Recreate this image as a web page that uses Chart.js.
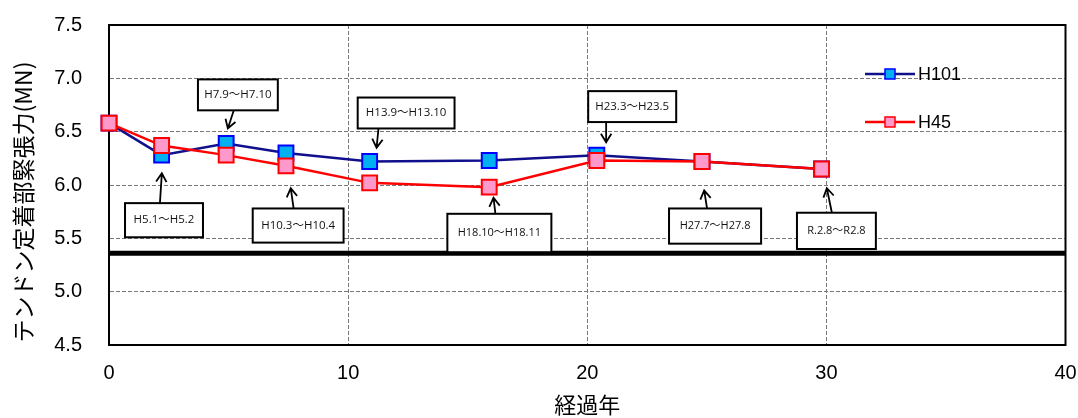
<!DOCTYPE html>
<html lang="ja">
<head>
<meta charset="UTF-8">
<title>テンドン定着部緊張力</title>
<script src="https://cdn.jsdelivr.net/npm/chart.js"></script>
<style>
  html, body { margin: 0; padding: 0; background: #fff; }
  #wrap { width: 1078px; height: 418px; position: relative; }
</style>
</head>
<body>
<div id="wrap"><canvas id="chart"></canvas></div>
<script>
// elapsed years at each measurement
const years = [0, 2.2, 4.9, 7.4, 10.9, 15.9, 20.4, 24.8, 29.8];
// tendon anchorage tension (MN)
const h101 = [6.58, 6.28, 6.39, 6.30, 6.22, 6.23, 6.28, 6.22, 6.15];
const h45  = [6.58, 6.37, 6.28, 6.18, 6.02, 5.98, 6.23, 6.22, 6.15];
// design limit line
const limitValue = 5.36;
const limitRange = [0, 40];
// measurement periods (points 2..9)
const periods = ['H5.1～H5.2', 'H7.9～H7.10', 'H10.3～H10.4', 'H13.9～H13.10',
                 'H18.10～H18.11', 'H23.3～H23.5', 'H27.7～H27.8', 'R.2.8～R2.8'];
const yTitle = 'テンドン定着部緊張力(MN)';
const xTitle = '経過年';

// callout layout in data units: box [x1, y1, x2, y2], arrow [tailX, tailY, tipX, tipY]
const calloutBoxes = [
    [0.67, 5.83, 3.93, 5.51], [3.72, 6.99, 7.06, 6.70], [6.01, 5.78, 9.81, 5.46],
    [10.40, 6.82, 14.45, 6.53], [14.15, 5.73, 18.50, 5.37], [20.04, 6.88, 23.72, 6.59],
    [23.42, 5.78, 27.27, 5.45], [28.77, 5.74, 32.07, 5.40]
];
const calloutArrows = [
    [2.13, 5.83, 2.21, 6.11], [5.22, 6.70, 4.97, 6.53], [7.72, 5.78, 7.60, 5.97],
    [11.27, 6.53, 11.19, 6.35], [16.16, 5.73, 16.08, 5.88], [20.79, 6.59, 20.79, 6.40],
    [25.01, 5.78, 24.89, 5.95], [30.23, 5.74, 30.02, 5.97]
];
const calloutFont = [11.5, 11.5, 11.5, 11.5, 11, 11.5, 11, 11];

const toPts = (xs, ys) => xs.map((x, i) => ({ x: x, y: ys[i] }));

const framePlugin = {
    id: 'frame',
    beforeDatasetsDraw(chart) {
        const { ctx, chartArea: a } = chart;
        ctx.save();
        ctx.strokeStyle = '#000';
        ctx.lineWidth = 2;
        ctx.strokeRect(a.left, a.top, a.right - a.left, a.bottom - a.top);
        ctx.restore();
    },
    afterDraw(chart) {
        // vertical axis title, sits a little below the plot centre like the original
        const { ctx, chartArea: a } = chart;
        ctx.save();
        ctx.translate(23, (a.top + a.bottom) / 2 + 17);
        ctx.rotate(-Math.PI / 2);
        ctx.fillStyle = '#000';
        ctx.font = '23px "Noto Sans CJK JP", sans-serif';
        ctx.textAlign = 'center';
        ctx.textBaseline = 'middle';
        ctx.fillText(yTitle, 0, 0);
        ctx.restore();
    }
};

function arrow(ctx, x1, y1, x2, y2) {
    const ang = Math.atan2(y2 - y1, x2 - x1);
    const h = 10;
    ctx.beginPath();
    ctx.moveTo(x1, y1);
    ctx.lineTo(x2, y2);
    ctx.moveTo(x2 - h * Math.cos(ang - 0.55), y2 - h * Math.sin(ang - 0.55));
    ctx.lineTo(x2, y2);
    ctx.lineTo(x2 - h * Math.cos(ang + 0.55), y2 - h * Math.sin(ang + 0.55));
    ctx.stroke();
}

const calloutPlugin = {
    id: 'callouts',
    afterDatasetsDraw(chart) {
        const { ctx, scales: { x, y } } = chart;
        ctx.save();
        periods.forEach((txt, i) => {
            const b = calloutBoxes[i];
            const x1 = x.getPixelForValue(b[0]), y1 = y.getPixelForValue(b[1]);
            const x2 = x.getPixelForValue(b[2]), y2 = y.getPixelForValue(b[3]);
            ctx.fillStyle = '#fff';
            ctx.fillRect(x1, y1, x2 - x1, y2 - y1);
            ctx.strokeStyle = '#000';
            ctx.lineWidth = 2;
            ctx.strokeRect(x1, y1, x2 - x1, y2 - y1);
            ctx.fillStyle = '#111';
            ctx.font = calloutFont[i] + 'px "Open Sans", "Noto Sans CJK JP", sans-serif';
            ctx.textAlign = 'center';
            ctx.textBaseline = 'middle';
            ctx.fillText(txt, (x1 + x2) / 2, (y1 + y2) / 2);
            const ar = calloutArrows[i];
            ctx.lineWidth = 1.8;
            arrow(ctx, x.getPixelForValue(ar[0]), y.getPixelForValue(ar[1]),
                       x.getPixelForValue(ar[2]), y.getPixelForValue(ar[3]));
        });
        ctx.restore();
    }
};

const legendPlugin = {
    id: 'sideLegend',
    afterDraw(chart) {
        const { ctx } = chart;
        const items = chart.data.datasets.filter(d => d.label);
        ctx.save();
        ['H101', 'H45'].forEach((name, i) => {
            const d = items.find(it => it.label === name);
            const cy = 74 + i * 48;
            ctx.strokeStyle = d.borderColor;
            ctx.lineWidth = 2.5;
            ctx.beginPath();
            ctx.moveTo(865, cy);
            ctx.lineTo(915, cy);
            ctx.stroke();
            ctx.fillStyle = d.pointBackgroundColor;
            ctx.strokeStyle = d.pointBorderColor;
            ctx.lineWidth = 1.5;
            ctx.fillRect(885, cy - 5, 10, 10);
            ctx.strokeRect(885, cy - 5, 10, 10);
            ctx.fillStyle = '#000';
            ctx.font = '18px "Liberation Sans", Arial, sans-serif';
            ctx.textAlign = 'left';
            ctx.textBaseline = 'middle';
            ctx.fillText(name, 918, cy + 1);
        });
        ctx.restore();
    }
};

new Chart(document.getElementById('chart'), {
    type: 'scatter',
    data: {
        datasets: [
            {
                label: 'H45',
                data: toPts(years, h45),
                showLine: true,
                borderColor: '#ff0000',
                borderWidth: 2.5,
                pointStyle: 'rect',
                pointRadius: 10.5,
                pointHoverRadius: 10.5,
                pointBackgroundColor: '#ff99cc',
                pointBorderColor: '#ff0000',
                pointBorderWidth: 2,
                order: 1,
                clip: false
            },
            {
                label: 'H101',
                data: toPts(years, h101),
                showLine: true,
                borderColor: '#10108c',
                borderWidth: 2.5,
                pointStyle: 'rect',
                pointRadius: 10.5,
                pointHoverRadius: 10.5,
                pointBackgroundColor: '#00b0f0',
                pointBorderColor: '#0000ff',
                pointBorderWidth: 2,
                order: 2,
                clip: false
            },
            {
                label: '',
                data: limitRange.map(v => ({ x: v, y: limitValue })),
                showLine: true,
                borderColor: '#000',
                borderWidth: 5,
                pointRadius: 0,
                order: 3,
                clip: false
            }
        ]
    },
    options: {
        responsive: true,
        maintainAspectRatio: false,
        animation: false,
        layout: { padding: { top: 25, right: 11, bottom: 0, left: 0 } },
        plugins: { legend: { display: false }, tooltip: { enabled: false } },
        scales: {
            x: {
                type: 'linear',
                min: 0, max: 40,
                ticks: {
                    stepSize: 10,
                    padding: 16,
                    color: '#000',
                    font: { family: '"Liberation Sans", Arial, sans-serif', size: 20 }
                },
                grid: { color: '#777', lineWidth: 1, drawTicks: false },
                border: { display: true, color: '#000', width: 2, dash: [4, 2] },
                title: {
                    display: true,
                    text: xTitle,
                    color: '#000',
                    padding: { top: 0, bottom: 0 },
                    font: { family: '"Noto Sans CJK JP", sans-serif', size: 22 }
                },
                afterFit(scale) {
                    scale.height = 73;
                    scale.paddingLeft = 0;
                    scale.paddingRight = 0;
                }
            },
            y: {
                min: 4.5, max: 7.5,
                ticks: {
                    stepSize: 0.5,
                    padding: 27,
                    color: '#000',
                    font: { family: '"Liberation Sans", Arial, sans-serif', size: 20 },
                    callback: v => Number(v).toFixed(1)
                },
                grid: { color: '#777', lineWidth: 1, drawTicks: false },
                border: { display: true, color: '#000', width: 2, dash: [4, 2] },
                afterFit(scale) {
                    scale.width = 109;
                    scale.paddingTop = 0;
                    scale.paddingBottom = 0;
                }
            }
        }
    },
    plugins: [framePlugin, calloutPlugin, legendPlugin]
});
</script>
</body>
</html>
